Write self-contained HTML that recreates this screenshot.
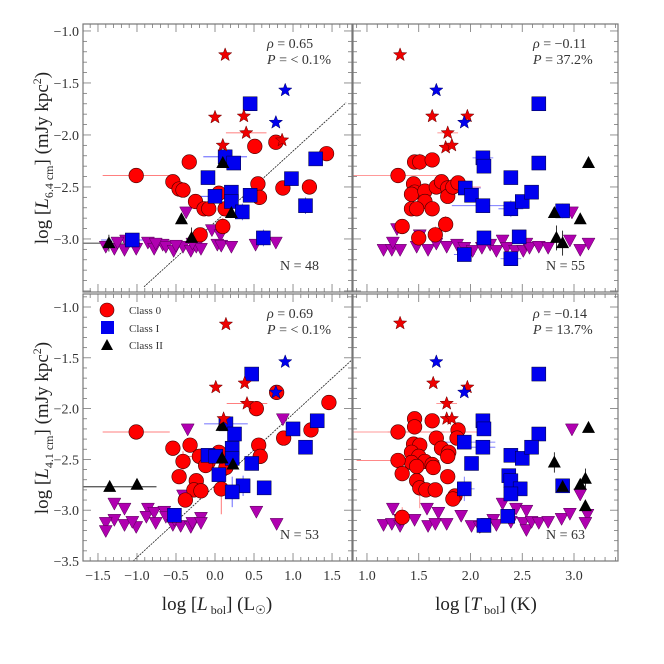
<!DOCTYPE html>
<html><head><meta charset="utf-8">
<style>
html,body{margin:0;padding:0;background:#fff;}
svg{display:block;font-family:"Liberation Serif","DejaVu Serif",serif;}
</style></head>
<body>
<svg id="fig" width="664" height="664" viewBox="0 0 664 664" xmlns="http://www.w3.org/2000/svg">
<rect width="664" height="664" fill="#fff"/>
</svg>
<script>
// ---------- DATA ----------
const tlCircles=[[-1.01,-2.39],[-0.54,-2.45],[-0.46,-2.52],[-0.41,-2.53],[-0.33,-2.26],[-0.25,-2.64],[-0.14,-2.71],[-0.08,-2.71],[0.05,-2.56],[0.13,-2.71],[0.10,-2.88],[-0.19,-2.96],[0.51,-2.11],[0.78,-2.07],[0.55,-2.47],[0.57,-2.60],[0.87,-2.51],[1.21,-2.50],[1.43,-2.18]];
const tlSquares=[[0.45,-1.70],[0.13,-2.21],[0.24,-2.27],[-0.09,-2.41],[0.00,-2.59],[0.21,-2.55],[0.21,-2.64],[0.45,-2.58],[0.35,-2.74],[0.98,-2.42],[1.29,-2.23],[1.16,-2.68],[0.62,-2.99],[-1.06,-3.01]];
const tlTriangles=[[0.10,-2.27],[-0.43,-2.81],[0.21,-2.75],[-0.30,-2.99],[-1.36,-3.04]];
const tlLimits=[[-1.40,-3.07],[-1.29,-3.09],[-1.16,-3.10],[-1.01,-3.09],[-0.86,-3.03],[-0.78,-3.09],[-0.67,-3.05],[-0.63,-3.07],[-0.53,-3.11],[-0.41,-3.07],[-0.31,-3.11],[-0.24,-3.07],[-0.18,-3.09],[-0.37,-2.74],[-0.04,-2.91],[0.07,-2.96],[0.03,-3.05],[0.08,-3.06],[0.21,-3.07],[0.52,-3.05],[0.78,-3.03],[-1.14,-3.01],[-1.25,-3.03],[-0.76,-3.04],[-0.50,-3.06],[-0.29,-3.04]];
const tlRedStars=[[0.13,-1.23],[0.00,-1.83],[0.37,-1.82],[0.40,-1.98],[0.10,-2.10],[0.86,-2.05]];
const tlBlueStars=[[0.90,-1.57],[0.78,-1.88]];
const tlErr=[[-1.01,-2.39,0.43,0,'#f55'],[0.40,-1.98,0.26,0,'#f55'],[0.13,-2.21,0.28,0,'#44f'],[0.00,-2.59,0.23,0,'#44f'],[-1.06,-3.01,0.40,0.06,'#44f'],[-1.36,-3.04,0.40,0.08,'#000'],[-0.30,-2.99,0,0.10,'#000'],[-0.33,-2.26,0,0.07,'#f55'],[0.10,-2.88,0,0.08,'#f55'],[1.16,-2.68,0,0.08,'#44f'],[0.62,-2.99,0.05,0.08,'#44f'],[0.35,-2.74,0,0.08,'#44f']];
const tlFit=[-0.91,-3.46,1.68,-1.69];

const trCircles=[[1.30,-2.39],[1.46,-2.26],[1.51,-2.26],[1.63,-2.24],[1.45,-2.47],[1.46,-2.55],[1.43,-2.57],[1.56,-2.54],[1.67,-2.50],[1.72,-2.45],[1.78,-2.51],[1.78,-2.59],[1.83,-2.50],[1.88,-2.46],[1.56,-2.64],[1.43,-2.71],[1.48,-2.71],[1.63,-2.71],[1.34,-2.88],[1.76,-2.86],[1.66,-2.96],[1.50,-2.99]];
const trSquares=[[2.66,-1.70],[2.66,-2.27],[2.12,-2.22],[2.13,-2.30],[2.39,-2.41],[1.95,-2.51],[2.01,-2.58],[2.12,-2.68],[2.39,-2.71],[2.50,-2.64],[2.59,-2.55],[2.89,-2.73],[2.13,-2.99],[2.47,-2.98],[1.94,-3.15],[2.39,-3.19]];
const trTriangles=[[3.14,-2.27],[2.81,-2.75],[3.06,-2.81],[2.83,-2.99],[2.89,-3.04]];
const trLimits=[[1.16,-3.10],[1.24,-3.10],[1.32,-3.10],[1.25,-3.03],[1.48,-3.07],[1.59,-3.10],[1.67,-3.04],[1.77,-3.07],[1.87,-3.05],[1.94,-3.08],[2.02,-3.11],[2.11,-3.08],[2.19,-3.05],[2.25,-3.11],[2.31,-3.01],[2.35,-3.08],[2.43,-3.11],[2.51,-3.11],[2.54,-3.04],[2.57,-3.08],[2.66,-3.07],[2.75,-3.08],[2.96,-3.01],[3.06,-3.10],[3.14,-3.04],[1.29,-2.90],[1.51,-2.96],[2.98,-2.74]];
const trRedStars=[[1.32,-1.23],[1.63,-1.82],[1.97,-1.82],[1.78,-1.98],[1.76,-2.12],[1.82,-2.10]];
const trBlueStars=[[1.67,-1.57],[1.94,-1.88]];
const trErr=[[1.30,-2.39,0.45,0,'#f77'],[1.78,-2.50,0.32,0,'#f77'],[1.78,-1.98,0.10,0,'#f77'],[1.51,-2.26,0,0.08,'#f77'],[1.95,-2.51,0.15,0,'#66f'],[2.12,-2.68,0.3,0,'#66f'],[2.39,-2.71,0.12,0.08,'#66f'],[2.12,-2.22,0.1,0.05,'#66f'],[1.94,-3.15,0.1,0.06,'#66f'],[2.39,-3.19,0.1,0.07,'#66f'],[2.89,-2.73,0.05,0.07,'#66f'],[2.83,-2.99,0,0.12,'#000'],[2.89,-3.04,0,0.12,'#000'],[1.76,-2.86,0,0.08,'#f77'],[1.66,-2.96,0,0.08,'#f77']];

const blCircles=[[-1.01,-2.23],[-0.54,-2.39],[-0.41,-2.52],[-0.32,-2.36],[-0.46,-2.67],[-0.24,-2.71],[-0.27,-2.80],[-0.18,-2.81],[-0.38,-2.90],[-0.20,-2.47],[-0.09,-2.53],[-0.12,-2.56],[0.05,-2.43],[0.08,-2.79],[0.14,-2.58],[0.53,-2.00],[0.56,-2.36],[0.58,-2.47],[0.88,-2.29],[1.23,-2.21],[1.46,-1.94],[0.79,-1.84]];
const blSquares=[[0.47,-1.66],[0.14,-2.15],[0.25,-2.25],[0.22,-2.39],[-0.09,-2.46],[0.01,-2.47],[0.22,-2.49],[0.47,-2.54],[0.05,-2.65],[0.36,-2.76],[0.22,-2.82],[0.63,-2.78],[1.00,-2.20],[1.31,-2.12],[1.16,-2.38],[-0.52,-3.05]];
const blTriangles=[[0.09,-2.17],[0.23,-2.55],[0.09,-2.49],[-1.35,-2.77],[-1.00,-2.75]];
const blLimits=[[-0.35,-2.20],[-0.41,-2.85],[0.87,-2.10],[0.53,-3.01],[0.79,-3.13],[-1.29,-2.93],[-1.16,-2.98],[-1.29,-3.09],[-1.40,-3.12],[-1.16,-3.14],[-1.01,-3.16],[-1.06,-3.11],[-0.86,-2.98],[-0.88,-3.06],[-0.78,-3.02],[-0.76,-3.12],[-0.65,-3.01],[-0.63,-3.06],[-0.54,-3.14],[-0.44,-3.15],[-0.31,-3.16],[-0.29,-3.12],[-0.18,-3.07],[-0.18,-3.12],[-1.40,-3.20],[-0.52,-3.09]];
const blRedStars=[[0.14,-1.17],[0.01,-1.79],[0.38,-1.75],[0.41,-1.95],[0.11,-2.10]];
const blBlueStars=[[0.90,-1.54],[0.78,-1.84]];
const blErr=[[-1.01,-2.23,0.43,0,'#f55'],[0.41,-1.95,0.26,0,'#f55'],[0.14,-2.15,0.28,0,'#44f'],[-1.35,-2.77,0.6,0,'#000'],[0.08,-2.79,0,0.25,'#f55'],[-0.41,-2.52,0,0.1,'#f55'],[-0.09,-2.47,0.3,0,'#f55'],[0.36,-2.76,0,0.1,'#44f'],[0.22,-2.82,0,0.15,'#44f'],[0.63,-2.78,0,0.05,'#44f']];
const blFit=[-1.05,-3.5,1.77,-1.51];

const brCircles=[[1.30,-2.23],[1.46,-2.10],[1.46,-2.18],[1.63,-2.12],[1.67,-2.29],[1.88,-2.21],[1.87,-2.29],[1.45,-2.35],[1.51,-2.36],[1.43,-2.43],[1.50,-2.47],[1.56,-2.52],[1.43,-2.53],[1.48,-2.57],[1.63,-2.55],[1.64,-2.58],[1.72,-2.39],[1.79,-2.43],[1.78,-2.47],[1.30,-2.51],[1.34,-2.64],[1.48,-2.71],[1.51,-2.78],[1.57,-2.80],[1.66,-2.80],[1.78,-2.67],[1.85,-2.86],[1.83,-2.89],[1.34,-3.07]];
const brSquares=[[2.66,-1.66],[2.66,-2.25],[2.12,-2.12],[2.13,-2.20],[2.12,-2.38],[1.94,-2.33],[2.01,-2.54],[2.39,-2.46],[2.50,-2.49],[2.59,-2.38],[2.37,-2.66],[2.39,-2.71],[2.48,-2.79],[2.39,-2.84],[1.94,-2.79],[2.89,-2.76],[2.36,-3.06],[2.13,-3.15]];
const brTriangles=[[3.14,-2.19],[2.81,-2.53],[3.11,-2.69],[3.06,-2.75],[3.11,-2.96],[2.89,-2.77]];
const brLimits=[[1.25,-2.98],[1.16,-3.14],[1.24,-3.13],[1.32,-3.15],[1.32,-3.09],[1.46,-3.09],[1.58,-2.98],[1.69,-3.02],[1.59,-3.15],[1.66,-3.13],[1.77,-3.13],[1.91,-3.05],[2.01,-3.15],[2.09,-3.16],[2.16,-3.13],[2.22,-3.09],[2.25,-3.14],[2.31,-2.93],[2.39,-3.11],[2.44,-2.98],[2.54,-3.00],[2.51,-3.12],[2.54,-3.19],[2.59,-3.11],[2.66,-3.12],[2.75,-3.11],[2.88,-3.08],[2.96,-3.03],[2.98,-2.20],[3.06,-2.84],[3.13,-3.04],[3.11,-3.12]];
const brRedStars=[[1.32,-1.16],[1.64,-1.75],[1.97,-1.79],[1.77,-1.95],[1.77,-2.10],[1.82,-2.10]];
const brBlueStars=[[1.67,-1.54],[1.94,-1.84]];
const brErr=[[1.30,-2.23,0.45,0,'#f77'],[1.70,-2.23,0.5,0,'#f77'],[1.30,-2.51,0.4,0,'#f77'],[1.77,-1.95,0.1,0,'#f77'],[1.94,-2.33,0.3,0,'#66f'],[2.12,-2.38,0.12,0,'#66f'],[1.94,-2.79,0.1,0.12,'#66f'],[2.13,-3.15,0.05,0.07,'#66f'],[2.81,-2.53,0,0.1,'#000'],[3.11,-2.69,0,0.1,'#000'],[1.51,-2.78,0,0.2,'#f77'],[1.34,-3.07,0,0.1,'#f77']];

const xTicksLeft=[-1.5,-1.0,-0.5,0.0,0.5,1.0,1.5];
const xTicksRight=[1.0,1.5,2.0,2.5,3.0];
const yTicksTop=[-1.0,-1.5,-2.0,-2.5,-3.0];
const yTicksBottom=[-1.0,-1.5,-2.0,-2.5,-3.0,-3.5];
const statsRho=["0.65","\u22120.11","0.69","\u22120.14"];
const statsP=["< 0.1%","37.2%","< 0.1%","13.7%"];
const nCounts=["48","55","53","63"];

// ---------- DRAW ----------
const NS="http://www.w3.org/2000/svg";
const svg=document.getElementById('fig');
function mk(tag,attrs,parent){const e=document.createElementNS(NS,tag);for(const k in attrs)e.setAttribute(k,attrs[k]);(parent||svg).appendChild(e);return e;}

const panels=[
 {id:'tl',px:[83,352],py:[24,292],dx:[-1.692,1.756],dy:[-0.933,-3.51],c:tlCircles,s:tlSquares,t:tlTriangles,l:tlLimits,rs:tlRedStars,bs:tlBlueStars,e:tlErr,fit:tlFit,xt:xTicksLeft,yt:yTicksTop,showX:false,showY:true,minX:-1.6,maxX:1.7,minY:-3.5,maxY:-1.0,k:0},
 {id:'tr',px:[353,618],py:[24,292],dx:[0.865,3.425],dy:[-0.933,-3.51],c:trCircles,s:trSquares,t:trTriangles,l:trLimits,rs:trRedStars,bs:trBlueStars,e:trErr,fit:null,xt:xTicksRight,yt:yTicksTop,showX:false,showY:false,minX:0.9,maxX:3.4,minY:-3.5,maxY:-1.0,k:1},
 {id:'bl',px:[83,352],py:[294,561],dx:[-1.692,1.756],dy:[-0.872,-3.5],c:blCircles,s:blSquares,t:blTriangles,l:blLimits,rs:blRedStars,bs:blBlueStars,e:blErr,fit:blFit,xt:xTicksLeft,yt:yTicksBottom,showX:true,showY:true,minX:-1.6,maxX:1.7,minY:-3.5,maxY:-0.9,k:2},
 {id:'br',px:[353,618],py:[294,561],dx:[0.865,3.425],dy:[-0.872,-3.5],c:brCircles,s:brSquares,t:brTriangles,l:brLimits,rs:brRedStars,bs:brBlueStars,e:brErr,fit:null,xt:xTicksRight,yt:yTicksBottom,showX:true,showY:false,minX:0.9,maxX:3.4,minY:-3.5,maxY:-0.9,k:3}
];

function starPts(cx,cy,R){const r=R*0.42;let p=[];for(let i=0;i<10;i++){const a=-Math.PI/2+i*Math.PI/5;const rr=i%2?r:R;p.push((cx+rr*Math.cos(a)).toFixed(2)+','+(cy+rr*Math.sin(a)).toFixed(2));}return p.join(' ');}

panels.forEach(P=>{
 const sx=v=>P.px[0]+(v-P.dx[0])/(P.dx[1]-P.dx[0])*(P.px[1]-P.px[0]);
 const sy=v=>P.py[0]+(v-P.dy[0])/(P.dy[1]-P.dy[0])*(P.py[1]-P.py[0]);
 const g=mk('g',{});
 
 
 const clipId='clip-'+P.id;
 const cp=mk('clipPath',{id:clipId},g);
 mk('rect',{x:P.px[0],y:P.py[0],width:P.px[1]-P.px[0],height:P.py[1]-P.py[0]},cp);
 const plot=mk('g',{'clip-path':'url(#'+clipId+')'},g);
 // fit line
 if(P.fit){const ln=mk('line',{x1:sx(P.fit[0]),y1:sy(P.fit[1]),x2:sx(P.fit[2]),y2:sy(P.fit[3]),stroke:'#222','stroke-width':0.8,'stroke-dasharray':'2,1'},plot);
  
  }
 // error bars
 P.e.forEach(d=>{
  if(d[2]>0){const l=mk('line',{x1:sx(d[0]-d[2]),x2:sx(d[0]+d[2]),y1:sy(d[1]),y2:sy(d[1]),stroke:d[4],'stroke-width':0.8},plot);
   
   }
  if(d[3]>0){const l=mk('line',{x1:sx(d[0]),x2:sx(d[0]),y1:sy(d[1]-d[3]),y2:sy(d[1]+d[3]),stroke:d[4],'stroke-width':0.8},plot);
   
   }
 });
 // upper limits
 P.l.forEach(d=>{const x=sx(d[0]),y=sy(d[1]);
  const m=mk('polygon',{points:`${x-6.5},${y-5} ${x+6.5},${y-5} ${x},${y+7}`,fill:'#b000b0',stroke:'#500050','stroke-width':0.5},plot);
  
  });
 P.c.forEach(d=>{const m=mk('circle',{cx:sx(d[0]),cy:sy(d[1]),r:7.3,fill:'#f00',stroke:'#400','stroke-width':0.6},plot);
  
  });
 P.s.forEach(d=>{const x=sx(d[0]),y=sy(d[1]);
  const m=mk('rect',{x:x-7,y:y-7,width:14,height:14,fill:'#0000f0',stroke:'#003','stroke-width':0.5},plot);
  
  });
 P.t.forEach(d=>{const x=sx(d[0]),y=sy(d[1]);
  const m=mk('polygon',{points:`${x},${y-7} ${x+6.5},${y+5} ${x-6.5},${y+5}`,fill:'#000'},plot);
  
  });
 P.rs.forEach(d=>{const m=mk('polygon',{points:starPts(sx(d[0]),sy(d[1]),7),fill:'#e00',stroke:'#600','stroke-width':0.5},plot);
  
  });
 P.bs.forEach(d=>{const m=mk('polygon',{points:starPts(sx(d[0]),sy(d[1]),7),fill:'#00e',stroke:'#006','stroke-width':0.5},plot);
  
  });
 // frame
 const fr=mk('rect',{x:P.px[0],y:P.py[0],width:P.px[1]-P.px[0],height:P.py[1]-P.py[0],fill:'none',stroke:'#777','stroke-width':1.2},g);
 
 
 // ticks
 const tk=mk('g',{stroke:'#777','stroke-width':0.8},g);
 for(let i=Math.round(P.minX*10);i<=Math.round(P.maxX*10);i++){const v=i/10;const x=sx(v);const major=(i%5===0);const L=major?8:4;
  mk('line',{x1:x,x2:x,y1:P.py[1],y2:P.py[1]-L},tk);mk('line',{x1:x,x2:x,y1:P.py[0],y2:P.py[0]+L},tk);}
 for(let i=Math.round(P.minY*10);i<=Math.round(P.maxY*10);i++){const v=i/10;const y=sy(v);const major=(i%5===0);const L=major?8:4;
  mk('line',{y1:y,y2:y,x1:P.px[0],x2:P.px[0]+L},tk);mk('line',{y1:y,y2:y,x1:P.px[1],x2:P.px[1]-L},tk);}
 if(P.showX){P.xt.forEach(v=>{const t=mk('text',{x:sx(v),y:P.py[1]+19,'text-anchor':'middle','font-size':14,fill:'#333'},g);t.textContent=(v<0?'\u2212':'')+Math.abs(v).toFixed(1);
  
  });}
 if(P.showY){P.yt.forEach(v=>{const t=mk('text',{x:P.px[0]-4,y:sy(v)+5,'text-anchor':'end','font-size':14,fill:'#333'},g);t.textContent='\u2212'+Math.abs(v).toFixed(1);
  
  });}
 // stats
 const ax=P.px[1]-85, ay=P.py[0]+24;
 const t1=mk('text',{x:ax,y:ay,'font-size':14,fill:'#333'},g);
 t1.innerHTML='<tspan font-style="italic">\u03c1</tspan> = '+statsRho[P.k];
 
 
 const t2=mk('text',{x:ax,y:ay+16,'font-size':14,fill:'#333'},g);
 t2.innerHTML='<tspan font-style="italic">P</tspan> = '+statsP[P.k];
 
 
 const t3=mk('text',{x:P.px[1]-72,y:P.py[1]-22,'font-size':14,fill:'#333'},g);
 t3.textContent='N = '+nCounts[P.k];
 
 
});

// legend
const lg=mk('g',{});


mk('circle',{cx:107,cy:310,r:7,fill:'#f00',stroke:'#400','stroke-width':0.6},lg);
mk('rect',{x:101,y:321,width:13,height:13,fill:'#0000f0'},lg);
mk('polygon',{points:'107,339 113,350 101,350',fill:'#000'},lg);
[['Class 0',314],['Class I',332],['Class II',349]].forEach(a=>{const t=mk('text',{x:129,y:a[1],'font-size':11,fill:'#333'},lg);t.textContent=a[0];
 
 });

// axis titles
function ylab(cy,sub,name){const t=mk('text',{x:0,y:0,'font-size':19,fill:'#222','text-anchor':'middle',transform:`translate(48,${cy}) rotate(-90)`});
 t.innerHTML='log [<tspan font-style="italic">L</tspan><tspan font-size="12" dy="5">'+sub+'</tspan><tspan dy="-5">] (mJy kpc</tspan><tspan font-size="12" dy="-7">2</tspan><tspan dy="7">)</tspan>';
 
 }
ylab(158,'6.4 cm','y-axis-title-top');
ylab(428,'4.1 cm','y-axis-title-bottom');
const xl1=mk('text',{x:217,y:610,'font-size':19,fill:'#222','text-anchor':'middle'});
xl1.innerHTML='log [<tspan font-style="italic">L</tspan><tspan font-size="12" dy="4"> bol</tspan><tspan dy="-4">] (L</tspan><tspan font-size="12" dy="4">\u2609</tspan><tspan dy="-4">)</tspan>';


const xl2=mk('text',{x:486,y:610,'font-size':19,fill:'#222','text-anchor':'middle'});
xl2.innerHTML='log [<tspan font-style="italic">T</tspan><tspan font-size="12" dy="4"> bol</tspan><tspan dy="-4">] (K)</tspan>';


</script>
</body></html>
